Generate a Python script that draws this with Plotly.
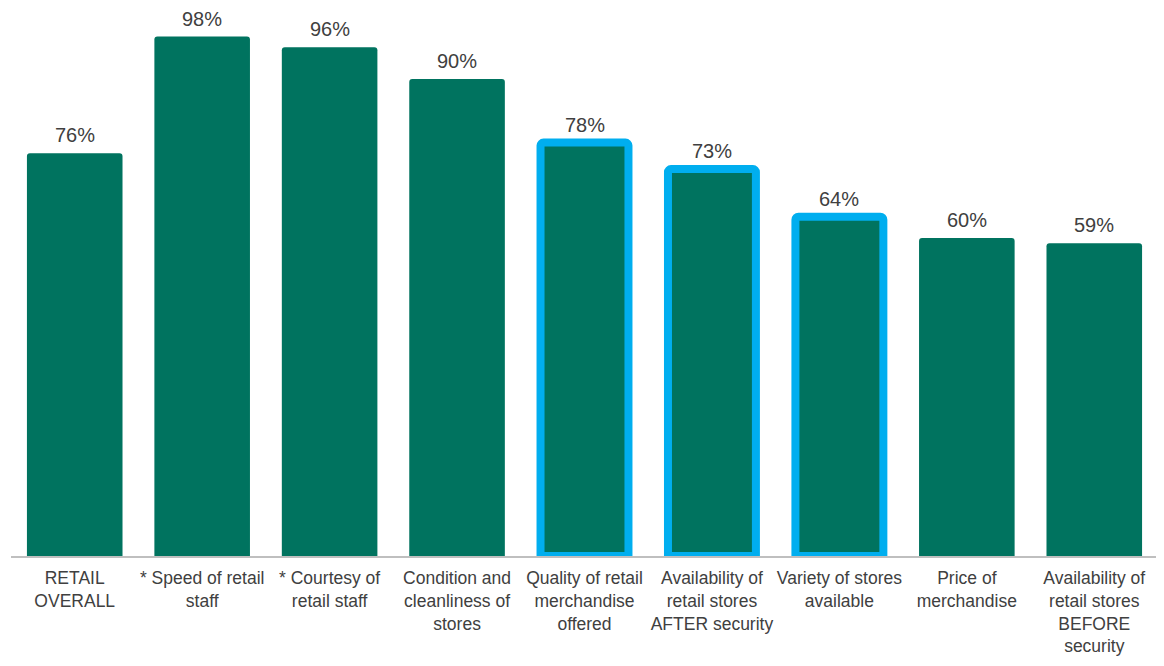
import plotly.graph_objects as go

categories = [
    "RETAIL<br>OVERALL",
    "* Speed of retail<br>staff",
    "* Courtesy of<br>retail staff",
    "Condition and<br>cleanliness of<br>stores",
    "Quality of retail<br>merchandise<br>offered",
    "Availability of<br>retail stores<br>AFTER security",
    "Variety of stores<br>available",
    "Price of<br>merchandise",
    "Availability of<br>retail stores<br>BEFORE<br>security",
]
values = [76, 98, 96, 90, 78, 73, 64, 60, 59]
highlighted = [False, False, False, False, True, True, True, False, False]

green = "#00735F"
blue = "#00AEEF"
FONT = "Liberation Sans, Arial, sans-serif"

line_widths = [8 if h else 0 for h in highlighted]
bar_widths = [0.69 if h else 0.75 for h in highlighted]
xs = list(range(len(categories)))

fig = go.Figure(
    go.Bar(
        x=xs,
        y=values,
        width=bar_widths,
        marker=dict(color=green, line=dict(color=blue, width=line_widths), cornerradius=3),
        hoverinfo="skip",
    )
)

for x, v in zip(xs, values):
    fig.add_annotation(
        x=x, y=v, text=f"{v}%", showarrow=False,
        yanchor="bottom", yshift=5,
        font=dict(family=FONT, size=20, color="#404040"),
    )

# Body has an 8px margin in the page, so shift margins accordingly
fig.update_layout(
    width=1164,
    height=666,
    margin=dict(l=3, r=14, t=0, b=118, autoexpand=False),
    plot_bgcolor="white",
    paper_bgcolor="white",
    showlegend=False,
    font=dict(family=FONT, size=17.5, color="#404040"),
    xaxis=dict(
        tickmode="array",
        tickvals=xs,
        ticktext=categories,
        tickangle=0,
        automargin=False,
        ticklabelstandoff=5,
        range=[-0.5, len(categories) - 0.5],
        showline=True,
        linecolor="#BFBFBF",
        linewidth=2,
        ticks="",
        showgrid=False,
        tickfont=dict(family=FONT, size=17.5, color="#404040"),
    ),
    yaxis=dict(range=[0, 103.4], visible=False, showgrid=False),
)

fig.write_html("out.html")
